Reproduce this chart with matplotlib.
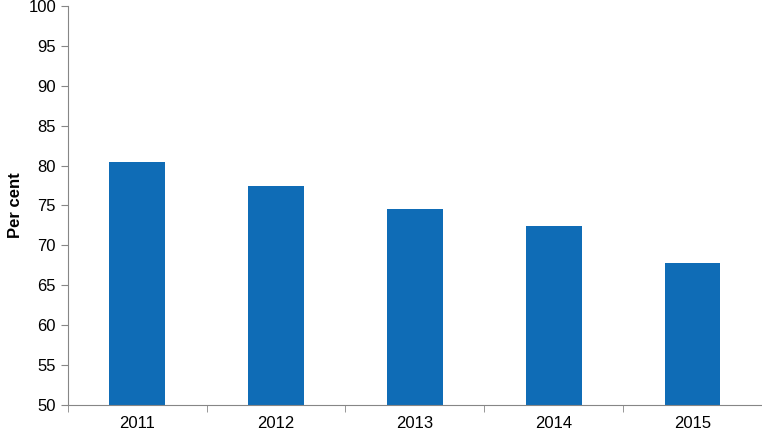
import matplotlib
matplotlib.use("Agg")
import matplotlib.pyplot as plt
import numpy as np

years = ["2011", "2012", "2013", "2014", "2015"]
per_cent = [80.5, 77.4, 74.5, 72.4, 67.8]

plt.rcParams["font.family"] = ["Liberation Sans", "DejaVu Sans"]

fig = plt.figure(figsize=(7.62, 4.43), dpi=100)
ax = fig.add_axes([0.089, 0.0858, 0.911, 0.9007])

x = np.arange(len(years))
ax.bar(x, per_cent, width=0.4, color="#0F6CB6")

ax.set_xlim(-0.5, len(years) - 0.5)
ax.set_ylim(50, 100)
ax.set_yticks(range(50, 101, 5))
ax.set_xticks(x)
ax.set_xticklabels(years)
ax.set_xticks(np.arange(-0.5, len(years)), minor=True)
ax.tick_params(axis="x", which="major", length=0, labelsize=12, pad=8)
ax.tick_params(axis="x", which="minor", length=5, color="#868686")
ax.tick_params(axis="y", length=5, color="#868686", labelsize=12)
ax.set_ylabel("Per cent", fontsize=12, fontweight="bold")

for side in ["top", "right"]:
    ax.spines[side].set_visible(False)
for side in ["left", "bottom"]:
    ax.spines[side].set_color("#868686")

fig.savefig("out.png", dpi=100)
